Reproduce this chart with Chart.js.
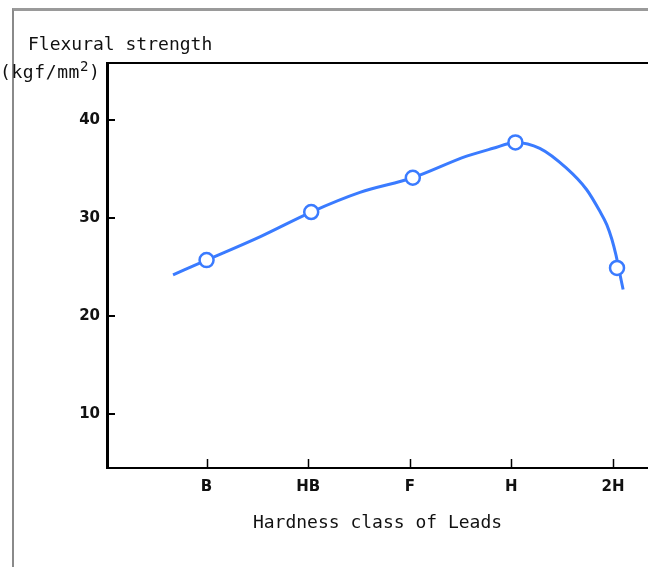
<!DOCTYPE html>
<html><head><meta charset="utf-8">
<script src="https://cdn.jsdelivr.net/npm/chart.js@4/dist/chart.umd.min.js"></script>
<style>
html,body{margin:0;padding:0;background:#fff;}
#wrap{position:relative;width:648px;height:567px;overflow:hidden;background:#fff;}
#frame{position:absolute;left:12px;top:8px;width:700px;height:600px;border-top:3px solid #9a9a9a;border-left:2px solid #8a8a8a;}
.lbl{position:absolute;font-family:'DejaVu Sans Mono',monospace;font-size:18px;color:#111;white-space:nowrap;line-height:1;}
canvas{position:absolute;left:0;top:0;}
</style></head>
<body><div id="wrap"><div id="frame"></div><canvas id="c" width="648" height="567"></canvas>
<div class="lbl" style="left:28px;top:35px">Flexural strength</div>
<div class="lbl" style="left:0;top:63px;letter-spacing:0.6px">(kgf/mm<span style="font-size:14px;position:relative;top:-7px">2</span>)</div>
</div>
<script>
const categories = ['B','HB','F','H','2H'];
const categoryPos = [0,1,2,3,4];
const pointX = [0.0, 1.03, 2.03, 3.04, 4.04];
const pointY = [25.7, 30.6, 34.1, 37.7, 24.9];
const curveX = [-0.33, 0, 0.53, 1.03, 1.51, 2.03, 2.56, 2.82, 3.04, 3.28, 3.54, 3.74, 3.87, 3.94, 3.99, 4.03, 4.06, 4.1];
const curveY = [24.2, 25.7, 28.1, 30.6, 32.6, 34.1, 36.3, 37.1, 37.7, 37.1, 35.1, 32.9, 30.7, 29.3, 27.8, 26.2, 24.7, 22.7];
const yTicks = [10,20,30,40];
const xTitle = 'Hardness class of Leads';

const blue = '#3a7bff';
const innerTicks = {
  id:'innerTicks',
  afterDraw(chart){
    const {ctx, chartArea:a, scales} = chart;
    ctx.save();
    ctx.strokeStyle = '#000';
    ctx.lineWidth = 2;
    ctx.beginPath(); ctx.moveTo(a.left, a.top); ctx.lineTo(a.right, a.top); ctx.stroke();
    ctx.lineWidth = 2;
    yTicks.forEach(v=>{ const y = Math.round(scales.y.getPixelForValue(v)); ctx.beginPath(); ctx.moveTo(a.left, y); ctx.lineTo(a.left+8, y); ctx.stroke(); });
    ctx.lineWidth = 1.5;
    categoryPos.forEach(v=>{ const x = Math.round(scales.x.getPixelForValue(v))+0.5; ctx.beginPath(); ctx.moveTo(x, a.bottom); ctx.lineTo(x, a.bottom-9); ctx.stroke(); });
    ctx.restore();
  }
};

new Chart(document.getElementById('c'), {
  type:'scatter',
  data:{datasets:[
    {data: pointX.map((x,i)=>({x, y: pointY[i]})), showLine:false, pointRadius:7, pointHoverRadius:7,
     pointBackgroundColor:'#fff', pointBorderColor:blue, pointBorderWidth:2.5, order:0},
    {data: curveX.map((x,i)=>({x, y: curveY[i]})), showLine:true, pointRadius:0, borderColor:blue, borderWidth:3,
     cubicInterpolationMode:'monotone', fill:false, order:1}
  ]},
  options:{
    responsive:false, animation:false, devicePixelRatio:1,
    layout:{autoPadding:false, padding:{left:0, top:63, right:0, bottom:0}},
    plugins:{legend:{display:false}, tooltip:{enabled:false}},
    scales:{
      x:{type:'linear', min:-0.98, max:4.345,
        afterBuildTicks(s){ s.ticks = categoryPos.map(v=>({value:v})); },
        afterFit(s){ s.height = 99; s.paddingLeft = 0; s.paddingRight = 0; },
        grid:{display:false, drawTicks:false},
        border:{display:true, color:'#000', width:2},
        ticks:{padding:10, color:'#111', font:{family:'DejaVu Sans', size:15, weight:'bold'},
          callback:(v)=>categories[categoryPos.indexOf(v)] ?? '', maxRotation:0, autoSkip:false},
        title:{display:true, text:xTitle, color:'#111', font:{family:'DejaVu Sans Mono', size:18}, padding:{top:0,bottom:33}}
      },
      y:{type:'linear', min:4.5, max:45.8,
        afterBuildTicks(s){ s.ticks = yTicks.map(v=>({value:v})); },
        afterFit(s){ s.width = 107; s.paddingTop = 0; s.paddingBottom = 0; },
        grid:{display:false, drawTicks:false},
        border:{display:true, color:'#000', width:3},
        ticks:{padding:7, color:'#111', font:{family:'DejaVu Sans', size:15, weight:'bold'}}
      }
    }
  },
  plugins:[innerTicks]
});
</script>
</body></html>
